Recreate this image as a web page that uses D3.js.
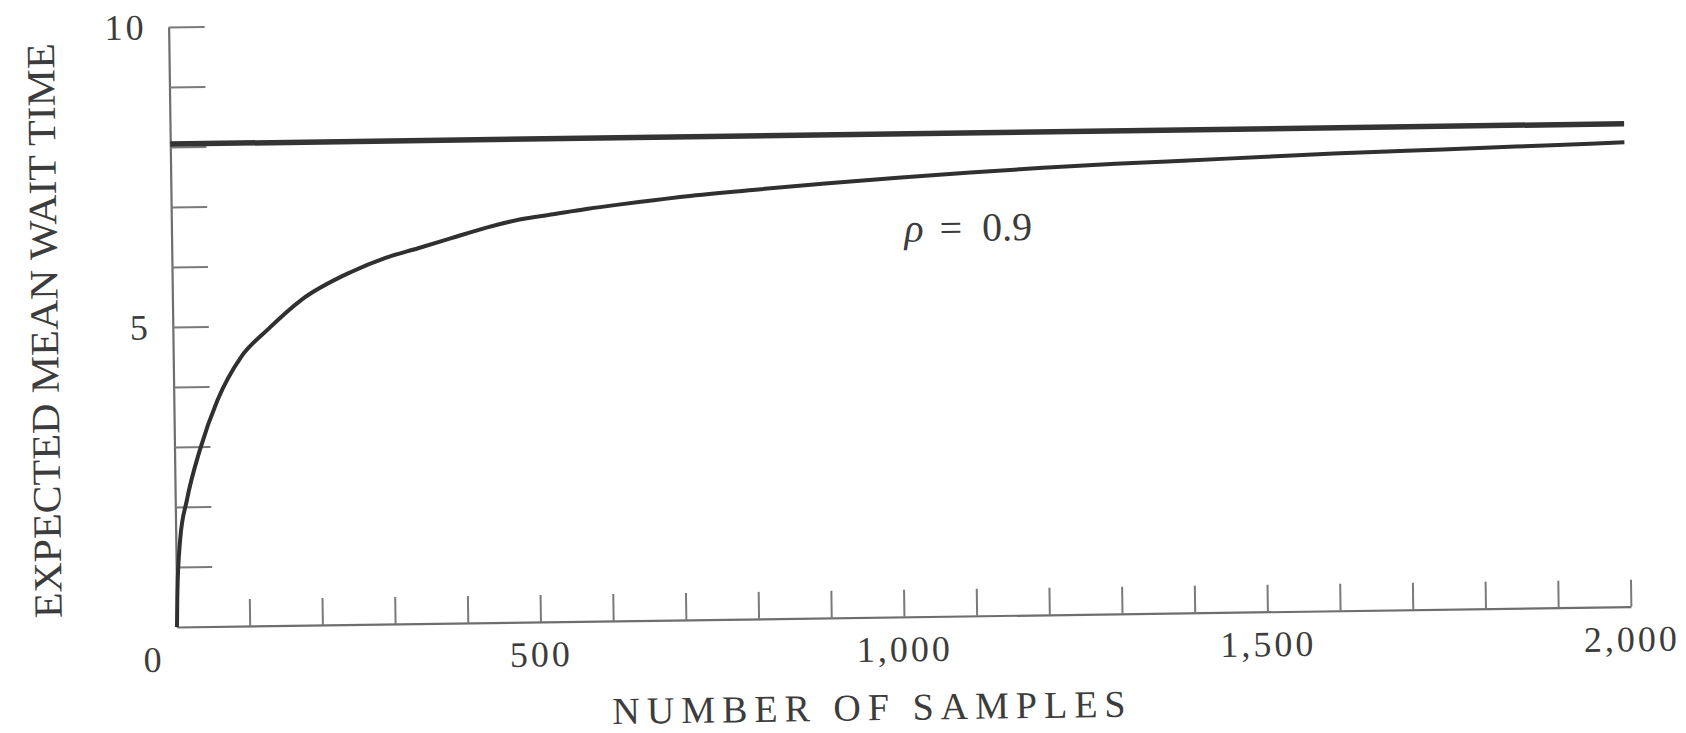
<!DOCTYPE html>
<html>
<head>
<meta charset="utf-8">
<script src="https://cdn.jsdelivr.net/npm/d3@7"></script>
<style>
  body { margin: 0; background: #fff; }
  text { font-family: "Liberation Serif", "DejaVu Serif", serif; fill: #3c3c3c; }
</style>
</head>
<body>
<div id="chart"></div>
<script>
// curve: expected mean wait time vs number of samples (rho = 0.9)
const sampleCounts = [0, 1, 6, 16, 35, 60, 93, 130, 177, 247, 293, 340, 386, 432, 479, 525, 571, 618, 664, 700, 800, 900, 1000, 1100, 1200, 1300, 1400, 1500, 1600, 1700, 1800, 1900, 2000];
const meanWait = [0, 0.5, 1.45, 2.11, 2.95, 3.77, 4.48, 4.93, 5.42, 5.88, 6.10, 6.26, 6.42, 6.58, 6.71, 6.79, 6.87, 6.94, 7.0, 7.05, 7.15, 7.24, 7.32, 7.39, 7.45, 7.5, 7.54, 7.58, 7.62, 7.65, 7.68, 7.71, 7.74];

// steady state line
const steadyCounts = [0, 2000];
const steadyWait = [8.05, 8.05];

const xTicks = [0, 100, 200, 300, 400, 500, 600, 700, 800, 900, 1000, 1100, 1200, 1300, 1400, 1500, 1600, 1700, 1800, 1900, 2000];
const xLabels = [0, 500, 1000, 1500, 2000];
const yTicks = [1, 2, 3, 4, 5, 6, 7, 8, 9, 10];
const yLabels = [5, 10];

const width = 1686;
const height = 733;

const svg = d3.select("#chart").append("svg")
    .attr("width", width)
    .attr("height", height);

// the scanned figure is slightly tilted
const g = svg.append("g")
    .attr("transform", "rotate(-0.8, 177, 627)");

const x = d3.scaleLinear().domain([0, 2000]).range([177, 1631]);
const y = d3.scaleLinear().domain([0, 10]).range([627, 27]);

/******************** axes ********************/
const xAxis = d3.axisBottom(x)
    .tickValues(xTicks)
    .tickSizeInner(-27)
    .tickSizeOuter(0)
    .tickPadding(19)
    .tickFormat(d => xLabels.includes(d) ? d3.format(",")(d) : "");

const gx = g.append("g")
    .attr("transform", `translate(0,${y(0)})`)
    .call(xAxis);

const yAxis = d3.axisLeft(y)
    .tickValues(yTicks)
    .tickSizeInner(-36)
    .tickSizeOuter(0)
    .tickPadding(22)
    .tickFormat(d => yLabels.includes(d) ? d : "");

const gy = g.append("g")
    .attr("transform", `translate(${x(0)},0)`)
    .call(yAxis);

[gx, gy].forEach(a => {
    a.select(".domain").attr("stroke", "#6e6e6e").attr("stroke-width", 2.2);
    a.selectAll(".tick line").attr("stroke", "#7a7a7a").attr("stroke-width", 2);
    a.selectAll(".tick text")
        .attr("font-size", 36)
        .attr("letter-spacing", 3)
        .attr("fill", "#4a4a4a");
});
// "0" sits left of the corner
gx.selectAll(".tick text").filter(d => d === 0).attr("dx", -24);

/******************** lines ********************/
const line = d3.line()
    .x(d => x(d[0]))
    .y(d => y(d[1]))
    .curve(d3.curveMonotoneX);

g.append("path")
    .datum(steadyCounts.map((n, i) => [n, steadyWait[i]]))
    .attr("fill", "none")
    .attr("stroke", "#343434")
    .attr("stroke-width", 5.5)
    .attr("d", line);

g.append("path")
    .datum(sampleCounts.map((n, i) => [n, meanWait[i]]))
    .attr("fill", "none")
    .attr("stroke", "#303030")
    .attr("stroke-width", 4)
    .attr("stroke-linejoin", "round")
    .attr("d", line);

/******************** labels ********************/
const rho = g.append("text")
    .attr("x", x(1008))
    .attr("y", y(6.25))
    .attr("font-size", 40);
rho.append("tspan").attr("font-style", "italic").text("ρ");
rho.append("tspan").attr("dx", 16).text("=");
rho.append("tspan").attr("dx", 20).text("0.9");

g.append("text")
    .attr("x", x(955))
    .attr("y", 730)
    .attr("text-anchor", "middle")
    .attr("font-size", 38)
    .attr("letter-spacing", 7)
    .text("NUMBER OF SAMPLES");

g.append("text")
    .attr("transform", "translate(62,329) rotate(-90)")
    .attr("text-anchor", "middle")
    .attr("font-size", 40)
    .attr("textLength", 575)
    .attr("lengthAdjust", "spacingAndGlyphs")
    .text("EXPECTED MEAN WAIT TIME");
</script>
</body>
</html>
